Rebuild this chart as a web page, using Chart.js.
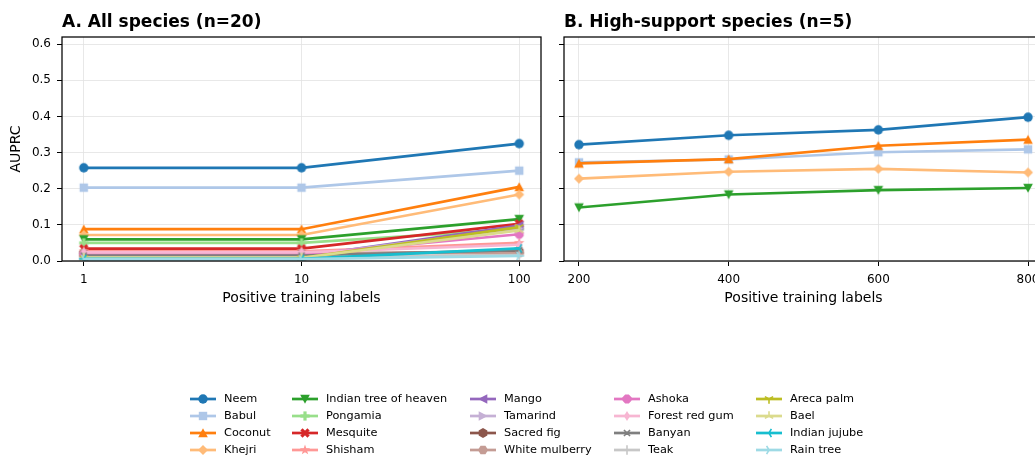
<!DOCTYPE html>
<html>
<head>
<meta charset="utf-8">
<script src="https://cdn.jsdelivr.net/npm/chart.js@4.4.1/dist/chart.umd.min.js"></script>
<style>
  html, body { margin: 0; padding: 0; background: #fff; }
  body { width: 1035px; height: 457px; overflow: hidden; position: relative; }
  #chartA { position: absolute; left: 0; top: 0; }
  #chartB { position: absolute; left: 548px; top: 0; }
  #legend { position: absolute; left: 0; top: 380px; }
</style>
</head>
<body>
<canvas id="chartA" width="560" height="320"></canvas>
<canvas id="chartB" width="512" height="320"></canvas>
<canvas id="legend" width="1035" height="77"></canvas>
<script>
// Species, colours and markers (tab20 palette)
const species = ['Neem', 'Babul', 'Coconut', 'Khejri', 'Indian tree of heaven', 'Pongamia', 'Mesquite', 'Shisham',
    'Mango', 'Tamarind', 'Sacred fig', 'White mulberry', 'Ashoka', 'Forest red gum', 'Banyan', 'Teak',
    'Areca palm', 'Bael', 'Indian jujube', 'Rain tree'];
const colors = ['#1f77b4', '#aec7e8', '#ff7f0e', '#ffbb78', '#2ca02c', '#98df8a', '#d62728', '#ff9896',
    '#9467bd', '#c5b0d5', '#8c564b', '#c49c94', '#e377c2', '#f7b6d2', '#7f7f7f', '#c7c7c7',
    '#bcbd22', '#dbdb8d', '#17becf', '#9edae5'];
const markers = ['o', 's', '^', 'D', 'v', 'P', 'X', '*', '<', '>', 'h', 'H', '8', 'd', 'x', '+', '1', '2', '3', '4'];

// Panel A: all species
const labelsAll = [1, 10, 100];
const auprcAll = [
    [0.258, 0.258, 0.325], // Neem
    [0.203, 0.203, 0.250], // Babul
    [0.088, 0.088, 0.205], // Coconut
    [0.072, 0.072, 0.184], // Khejri
    [0.060, 0.060, 0.116], // Indian tree of heaven
    [0.050, 0.050, 0.088], // Pongamia
    [0.034, 0.034, 0.103], // Mesquite
    [0.027, 0.027, 0.050], // Shisham
    [0.012, 0.012, 0.098], // Mango
    [0.014, 0.014, 0.090], // Tamarind
    [0.020, 0.020, 0.026], // Sacred fig
    [0.022, 0.022, 0.022], // White mulberry
    [0.018, 0.018, 0.074], // Ashoka
    [0.024, 0.024, 0.045], // Forest red gum
    [0.015, 0.015, 0.030], // Banyan
    [0.010, 0.010, 0.016], // Teak
    [0.008, 0.008, 0.094], // Areca palm
    [0.009, 0.009, 0.085], // Bael
    [0.006, 0.006, 0.035], // Indian jujube
    [0.005, 0.005, 0.014]  // Rain tree
];

// Panel B: high-support species
const labelsHigh = [200, 400, 600, 800];
const highSpecies = ['Neem', 'Babul', 'Coconut', 'Khejri', 'Indian tree of heaven'];
const auprcHigh = [
    [0.322, 0.348, 0.363, 0.398],
    [0.273, 0.281, 0.301, 0.309],
    [0.270, 0.282, 0.319, 0.336],
    [0.228, 0.247, 0.255, 0.245],
    [0.148, 0.184, 0.196, 0.202]
];

const yTicks = [0, 0.1, 0.2, 0.3, 0.4, 0.5, 0.6];
const FONT = '"DejaVu Sans", sans-serif';

// Marker images, roughly like matplotlib's marker set
function makeMarker(shape, color) {
    const c = document.createElement('canvas');
    c.width = 18; c.height = 18;
    const g = c.getContext('2d');
    g.translate(9, 9);
    g.fillStyle = color;
    g.strokeStyle = color;
    g.lineWidth = 1.6;
    const deg = Math.PI / 180;
    const poly = pts => {
        g.beginPath();
        pts.forEach(([x, y], i) => i ? g.lineTo(x, y) : g.moveTo(x, y));
        g.closePath();
        g.fill();
    };
    const ngon = (n, r, rot) => {
        const pts = [];
        for (let k = 0; k < n; k++) pts.push([r * Math.cos(rot + k * 2 * Math.PI / n), r * Math.sin(rot + k * 2 * Math.PI / n)]);
        poly(pts);
    };
    const spokes = (angles, r) => {
        g.beginPath();
        angles.forEach(a => { g.moveTo(0, 0); g.lineTo(r * Math.cos(a * deg), r * Math.sin(a * deg)); });
        g.stroke();
    };
    switch (shape) {
        case 'o': g.beginPath(); g.arc(0, 0, 4.7, 0, 2 * Math.PI); g.fill(); break;
        case 's': g.fillRect(-4.2, -4.2, 8.4, 8.4); break;
        case '^': poly([[0, -4.8], [-4.8, 4.3], [4.8, 4.3]]); break;
        case 'v': poly([[0, 4.8], [-4.8, -4.3], [4.8, -4.3]]); break;
        case '<': poly([[-4.8, 0], [4.3, -4.8], [4.3, 4.8]]); break;
        case '>': poly([[4.8, 0], [-4.3, -4.8], [-4.3, 4.8]]); break;
        case 'D': poly([[0, -5.0], [5.0, 0], [0, 5.0], [-5.0, 0]]); break;
        case 'd': poly([[0, -5.0], [3.1, 0], [0, 5.0], [-3.1, 0]]); break;
        case 'P': g.fillRect(-4.6, -1.6, 9.2, 3.2); g.fillRect(-1.6, -4.6, 3.2, 9.2); break;
        case 'X': g.rotate(45 * deg); g.fillRect(-5.0, -1.6, 10, 3.2); g.fillRect(-1.6, -5.0, 3.2, 10); break;
        case '*': {
            const pts = [];
            for (let k = 0; k < 10; k++) {
                const r = k % 2 ? 2.2 : 5.4, a = -90 * deg + k * 36 * deg;
                pts.push([r * Math.cos(a), r * Math.sin(a)]);
            }
            poly(pts);
            break;
        }
        case 'h': ngon(6, 5.0, -90 * deg); break;
        case 'H': ngon(6, 5.0, 0); break;
        case '8': ngon(8, 4.8, 22.5 * deg); break;
        case 'x': spokes([45, 135, 225, 315], 4.3); break;
        case '+': spokes([0, 90, 180, 270], 4.8); break;
        case '1': spokes([90, 210, 330], 4.8); break;
        case '2': spokes([270, 30, 150], 4.8); break;
        case '3': spokes([180, 60, 300], 4.8); break;
        case '4': spokes([0, 120, 240], 4.8); break;
    }
    return c;
}
const markerImgs = markers.map((m, i) => makeMarker(m, colors[i]));

// Plugins: full black frame and bold panel title
const framePlugin = {
    id: 'frame',
    afterDatasetsDraw(chart) {
        const { ctx, chartArea: a } = chart;
        ctx.save();
        ctx.strokeStyle = '#000';
        ctx.lineWidth = 1.25;
        ctx.strokeRect(a.left, a.top, a.right - a.left, a.bottom - a.top);
        ctx.restore();
    }
};
const titlePlugin = {
    id: 'panelTitle',
    afterDraw(chart, args, opts) {
        const { ctx, chartArea: a } = chart;
        ctx.save();
        ctx.fillStyle = '#000';
        ctx.font = 'bold 17px ' + FONT;
        ctx.textBaseline = 'alphabetic';
        ctx.fillText(opts.text, a.left, 27);
        ctx.restore();
    }
};

function buildPanel(id, xs, rows, names, cfg) {
    const datasets = rows.map((vals, i) => {
        const k = species.indexOf(names[i]);
        return {
            label: names[i],
            data: xs.map((x, j) => ({ x, y: vals[j] })),
            borderColor: colors[k],
            backgroundColor: colors[k],
            borderWidth: 2.7,
            pointStyle: markerImgs[k],
            pointRadius: 5,
            pointHoverRadius: 5,
            tension: 0,
            order: -i
        };
    });
    const grid = { color: '#e2e2e2', lineWidth: 0.8, tickColor: '#000', tickLength: 5, tickWidth: 1 };
    return new Chart(document.getElementById(id), {
        type: 'line',
        data: { datasets },
        options: {
            responsive: false,
            animation: false,
            events: [],
            layout: { padding: { left: 0, top: 37, right: cfg.padRight, bottom: 0 } },
            plugins: {
                legend: { display: false },
                tooltip: { enabled: false },
                panelTitle: { text: cfg.title }
            },
            scales: {
                x: {
                    type: cfg.log ? 'logarithmic' : 'linear',
                    min: cfg.xMin,
                    max: cfg.xMax,
                    afterBuildTicks: s => { s.ticks = xs.map(v => ({ value: v })); },
                    ticks: { callback: v => String(v), color: '#000', font: { family: FONT, size: 12 }, padding: 7, maxRotation: 0, autoSkip: false },
                    grid,
                    border: { display: false },
                    title: { display: true, text: 'Positive training labels', color: '#000', font: { family: FONT, size: 14 }, padding: { top: 0, bottom: 13 } },
                    afterFit: s => { s.height = 59; }
                },
                y: {
                    min: 0,
                    max: 0.62,
                    afterBuildTicks: s => { s.ticks = yTicks.map(v => ({ value: v })); },
                    ticks: { callback: v => cfg.showY ? v.toFixed(1) : '', color: '#000', font: { family: FONT, size: 12 }, padding: 6 },
                    grid,
                    border: { display: false },
                    title: { display: cfg.showY, text: 'AUPRC', color: '#000', font: { family: FONT, size: 14 }, padding: { top: 8, bottom: 0 } },
                    afterFit: s => { s.width = cfg.yWidth; }
                }
            }
        },
        plugins: [framePlugin, titlePlugin]
    });
}

buildPanel('chartA', labelsAll, auprcAll, species,
    { title: 'A. All species (n=20)', log: true, xMin: 0.794, xMax: 125.9, showY: true, yWidth: 62, padRight: 19 });
buildPanel('chartB', labelsHigh, auprcHigh, highSpecies,
    { title: 'B. High-support species (n=5)', log: false, xMin: 180, xMax: 820, showY: false, yWidth: 16, padRight: 17 });

// Legend: 5 columns x 4 rows, filled column by column
const lg = document.getElementById('legend').getContext('2d');
const colX = [190, 292, 470, 614, 756];
const rowY = [19, 36, 53, 70];
lg.font = '11.3px ' + FONT;
lg.textBaseline = 'middle';
species.forEach((name, i) => {
    const x = colX[Math.floor(i / 4)], y = rowY[i % 4];
    lg.strokeStyle = colors[i];
    lg.lineWidth = 2.7;
    lg.beginPath();
    lg.moveTo(x, y);
    lg.lineTo(x + 26, y);
    lg.stroke();
    lg.drawImage(markerImgs[i], x + 13 - 9, y - 9);
    lg.fillStyle = '#000';
    lg.fillText(name, x + 34, y);
});
</script>
</body>
</html>
